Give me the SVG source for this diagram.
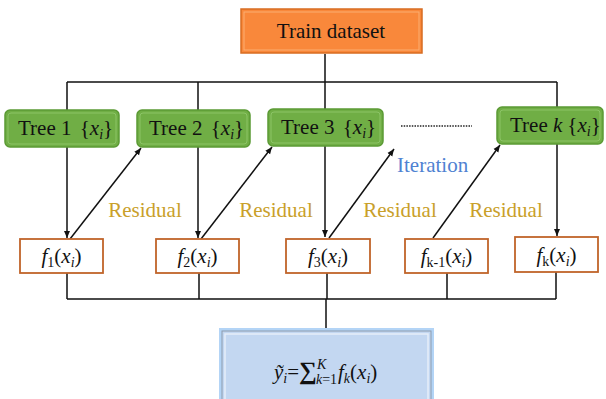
<svg xmlns="http://www.w3.org/2000/svg" width="606" height="399" viewBox="0 0 606 399" font-family="'Liberation Serif', 'DejaVu Serif', serif">
  <style>
    text { font-family: "Liberation Serif", "DejaVu Serif", serif; font-size: 21px; fill: #111; }
    .it { font-style: italic; }
    .sub { font-size: 14px; }
    .residual { fill: #c9a02a; text-anchor: middle; }
    .iter { fill: #4f82d2; }
    .wire { fill: none; stroke: #111; stroke-width: 1.5; }
    .orange { fill: #f9883b; stroke: #d76c22; stroke-width: 1.5; }
    .orange-in { fill: none; stroke: #fbae73; stroke-width: 1; }
    .tree { fill: #70ae45; stroke: #5b9a34; stroke-width: 1.5; }
    .tree-in { fill: none; stroke: #8cc466; stroke-width: 1; }
    .fbox { fill: #fff; stroke: #c0642a; stroke-width: 1.8; }
    .blue-glow { fill: none; stroke: #b3d4f6; stroke-width: 4; }
    .blue { fill: #c3d7f1; stroke: #8e9cae; stroke-width: 1; }
    .blue-in { fill: none; stroke: #e6eef9; stroke-width: 1.5; }
  </style>
  <defs>
    <marker id="arrow" markerUnits="userSpaceOnUse" markerWidth="8" markerHeight="8" refX="7" refY="4" orient="auto">
      <path d="M0,1 L7,4 L0,7 Z" fill="#111"/>
    </marker>
  </defs>

  <!-- connectors -->
  <g id="connectors">
    <!-- dataset feeding every tree -->
    <path class="wire" d="M325,54 V110 M67,82 H557 M67,82 V110 M198,82 V110 M557,82 V108"/>
    <!-- tree outputs -->
    <line class="wire" x1="67" y1="147" x2="67" y2="238" marker-end="url(#arrow)"/>
    <line class="wire" x1="198" y1="147" x2="198" y2="238" marker-end="url(#arrow)"/>
    <line class="wire" x1="325" y1="146" x2="325" y2="237" marker-end="url(#arrow)"/>
    <line class="wire" x1="557" y1="144" x2="557" y2="236" marker-end="url(#arrow)"/>
    <!-- residuals passed to the next tree -->
    <line class="wire" x1="70" y1="239" x2="141" y2="148" marker-end="url(#arrow)"/>
    <line class="wire" x1="201" y1="239" x2="272" y2="147" marker-end="url(#arrow)"/>
    <line class="wire" x1="329" y1="238" x2="394" y2="149" marker-end="url(#arrow)"/>
    <line class="wire" x1="433" y1="238" x2="500" y2="145" marker-end="url(#arrow)"/>
    <!-- summation of all tree outputs -->
    <path class="wire" d="M67,273 V299 M199,273 V299 M327,273 V299 M447,273 V299 M556,272 V299 M67,299 H556 M326,299 V331"/>
    <!-- ellipsis between tree 3 and tree k -->
    <line x1="401" y1="126" x2="472" y2="126" stroke="#222" stroke-width="1.5" stroke-dasharray="1.5 1.2"/>
  </g>

  <!-- input data -->
  <g id="train-dataset">
    <rect class="orange" x="241" y="9" width="181" height="44"/>
    <rect class="orange-in" x="244" y="12" width="175" height="38"/>
    <text x="331" y="38" text-anchor="middle">Train dataset</text>
  </g>

  <!-- trees -->
  <g id="tree-1">
    <rect class="tree" x="5" y="110" width="114" height="37" rx="5"/>
    <rect class="tree-in" x="8" y="113" width="108" height="31" rx="3"/>
    <text x="18" y="135">Tree 1 <tspan dx="3">{</tspan><tspan class="it">x</tspan><tspan class="it sub" dy="4">i</tspan><tspan dy="-4">}</tspan></text>
  </g>
  <g id="tree-2">
    <rect class="tree" x="137" y="110" width="113" height="37" rx="5"/>
    <rect class="tree-in" x="140" y="113" width="107" height="31" rx="3"/>
    <text x="149" y="135">Tree 2 <tspan dx="3">{</tspan><tspan class="it">x</tspan><tspan class="it sub" dy="4">i</tspan><tspan dy="-4">}</tspan></text>
  </g>
  <g id="tree-3">
    <rect class="tree" x="268" y="109" width="115" height="37" rx="5"/>
    <rect class="tree-in" x="271" y="112" width="109" height="31" rx="3"/>
    <text x="281" y="134">Tree 3 <tspan dx="3">{</tspan><tspan class="it">x</tspan><tspan class="it sub" dy="4">i</tspan><tspan dy="-4">}</tspan></text>
  </g>
  <g id="tree-k">
    <rect class="tree" x="497" y="107" width="106" height="37" rx="5"/>
    <rect class="tree-in" x="500" y="110" width="100" height="31" rx="3"/>
    <text x="510" y="132">Tree <tspan class="it">k</tspan><tspan dx="5">{</tspan><tspan class="it">x</tspan><tspan class="it sub" dy="4">i</tspan><tspan dy="-4">}</tspan></text>
  </g>

  <!-- tree outputs -->
  <g id="f-1">
    <rect class="fbox" x="20" y="239" width="83" height="34"/>
    <text x="61.5" y="263" text-anchor="middle"><tspan class="it">f</tspan><tspan class="sub" dy="4">1</tspan><tspan dy="-4">(</tspan><tspan class="it">x</tspan><tspan class="it sub" dy="4">i</tspan><tspan dy="-4">)</tspan></text>
  </g>
  <g id="f-2">
    <rect class="fbox" x="156" y="239" width="83" height="34"/>
    <text x="197.5" y="263" text-anchor="middle"><tspan class="it">f</tspan><tspan class="sub" dy="4">2</tspan><tspan dy="-4">(</tspan><tspan class="it">x</tspan><tspan class="it sub" dy="4">i</tspan><tspan dy="-4">)</tspan></text>
  </g>
  <g id="f-3">
    <rect class="fbox" x="286" y="239" width="84" height="34"/>
    <text x="328" y="263" text-anchor="middle"><tspan class="it">f</tspan><tspan class="sub" dy="4">3</tspan><tspan dy="-4">(</tspan><tspan class="it">x</tspan><tspan class="it sub" dy="4">i</tspan><tspan dy="-4">)</tspan></text>
  </g>
  <g id="f-k-1">
    <rect class="fbox" x="405" y="239" width="83" height="34"/>
    <text x="446.5" y="263" text-anchor="middle"><tspan class="it">f</tspan><tspan class="sub" dy="4">k-1</tspan><tspan dy="-4">(</tspan><tspan class="it">x</tspan><tspan class="it sub" dy="4">i</tspan><tspan dy="-4">)</tspan></text>
  </g>
  <g id="f-k">
    <rect class="fbox" x="515" y="237" width="83" height="35"/>
    <text x="556.5" y="262" text-anchor="middle"><tspan class="it">f</tspan><tspan class="sub" dy="4">k</tspan><tspan dy="-4">(</tspan><tspan class="it">x</tspan><tspan class="it sub" dy="4">i</tspan><tspan dy="-4">)</tspan></text>
  </g>

  <!-- labels -->
  <g id="labels">
    <text class="residual" x="145" y="217">Residual</text>
    <text class="residual" x="276" y="217">Residual</text>
    <text class="residual" x="400" y="217">Residual</text>
    <text class="residual" x="506" y="217">Residual</text>
    <text class="iter" x="397" y="172">Iteration</text>
  </g>

  <!-- ensemble output -->
  <g id="prediction">
    <rect class="blue-glow" x="221" y="330" width="211" height="80"/>
    <rect class="blue" x="222" y="331" width="209" height="80"/>
    <rect class="blue-in" x="225" y="334" width="203" height="74"/>
    <text x="274" y="379"><tspan class="it">ỹ</tspan><tspan class="it sub" dy="4">i</tspan><tspan dy="-4">=</tspan><tspan font-size="25" font-weight="bold">∑</tspan></text>
    <text class="it sub" x="317" y="369">K</text>
    <text class="sub" x="316" y="384"><tspan class="it">k</tspan>=1</text>
    <text x="338" y="379"><tspan class="it">f</tspan><tspan class="it sub" dy="4">k</tspan><tspan dy="-4">(</tspan><tspan class="it">x</tspan><tspan class="it sub" dy="4">i</tspan><tspan dy="-4">)</tspan></text>
  </g>
</svg>
